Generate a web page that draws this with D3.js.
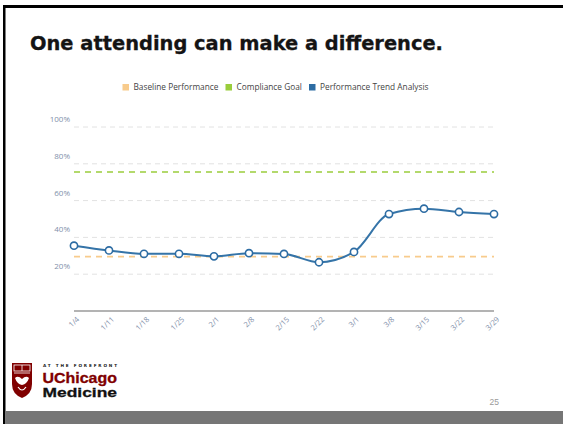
<!DOCTYPE html>
<html>
<head>
<meta charset="utf-8">
<script src="https://cdn.jsdelivr.net/npm/d3@7"></script>
<style>
  html, body { margin: 0; padding: 0; background: #fff; }
  svg { display: block; }
</style>
</head>
<body>
<svg id="chart" width="563" height="424"></svg>
<script>
// ---- data ----
const dates = ["1/4","1/11","1/18","1/25","2/1","2/8","2/15","2/22","3/1","3/8","3/15","3/22","3/29"];
const trend = [35.5, 32.9, 31.1, 31.1, 29.7, 31.4, 31.0, 26.5, 32.1, 52.7, 55.6, 53.8, 52.7];
const baseline = 29.6;
const goal = 75.5;
const yTicks = [20, 40, 60, 80, 100];
const legendLabels = ["Baseline Performance", "Compliance Goal", "Performance Trend Analysis"];
const legendColors = ["#f8cb8c", "#9acd3c", "#2d6ca3"];

const svg = d3.select("#chart");

// slide frame
svg.append("rect").attr("x", 3).attr("y", 5).attr("width", 560).attr("height", 3).attr("fill", "#000");
svg.append("rect").attr("x", 3).attr("y", 5).attr("width", 2.5).attr("height", 419).attr("fill", "#000");
svg.append("rect").attr("x", 5.5).attr("y", 411).attr("width", 558).attr("height", 13).attr("fill", "#767676");

// title
svg.append("text")
  .attr("x", 30).attr("y", 50)
  .attr("font-family", "DejaVu Sans")
  .attr("font-weight", "bold")
  .attr("font-size", 19)
  .attr("textLength", 413)
  .attr("lengthAdjust", "spacingAndGlyphs")
  .attr("fill", "#141414")
  .attr("stroke", "#141414").attr("stroke-width", 0.3)
  .text("One attending can make a difference.");

// scales
const x = d3.scalePoint().domain(dates).range([74, 494]);
const y = d3.scaleLinear().domain([0, 100]).range([311, 127]);

const font = "Open Sans";

// gridlines
svg.append("g").selectAll("line").data(yTicks).join("line")
  .attr("x1", 74).attr("x2", 494)
  .attr("y1", d => y(d)).attr("y2", d => y(d))
  .attr("stroke", "#e2e2e2").attr("stroke-width", 1)
  .attr("stroke-dasharray", "5,4");

// y labels
svg.append("g").selectAll("text").data(yTicks).join("text")
  .attr("x", 70).attr("y", d => y(d) - 5)
  .attr("text-anchor", "end")
  .attr("font-family", font).attr("font-size", 8)
  .attr("fill", "#7f90aa")
  .text(d => d + "%");

// x axis line
svg.append("line")
  .attr("x1", 74).attr("x2", 494).attr("y1", y(0)).attr("y2", y(0))
  .attr("stroke", "#9a9a9a").attr("stroke-width", 1.5);

// x labels
svg.append("g").selectAll("text").data(dates).join("text")
  .attr("transform", d => `translate(${x(d) + 4},${y(0) + 7}) rotate(-45)`)
  .attr("text-anchor", "end")
  .attr("dy", "0.35em")
  .attr("font-family", font).attr("font-size", 7.5)
  .attr("fill", "#7f90aa")
  .text(d => d);

// goal line
svg.append("line")
  .attr("x1", 74).attr("x2", 494).attr("y1", y(goal)).attr("y2", y(goal))
  .attr("stroke", legendColors[1]).attr("stroke-width", 1.5)
  .attr("stroke-dasharray", "6,5");

// baseline
svg.append("line")
  .attr("x1", 74).attr("x2", 494).attr("y1", y(baseline)).attr("y2", y(baseline))
  .attr("stroke", legendColors[0]).attr("stroke-width", 1.8)
  .attr("stroke-dasharray", "6,5");

// trend line
const pts = dates.map((d, i) => [x(d), y(trend[i])]);
svg.append("path")
  .attr("d", d3.line().curve(d3.curveMonotoneX)(pts))
  .attr("fill", "none").attr("stroke", "#3574a8").attr("stroke-width", 2);

svg.append("g").selectAll("circle").data(pts).join("circle")
  .attr("cx", d => d[0]).attr("cy", d => d[1]).attr("r", 3.6)
  .attr("fill", "#fff").attr("stroke", "#2d6ca3").attr("stroke-width", 1.6);

// legend
const legendX = [122.5, 225.5, 309];
const lg = svg.append("g");
legendLabels.forEach((t, i) => {
  lg.append("rect").attr("x", legendX[i]).attr("y", 84).attr("width", 6.5).attr("height", 6.5)
    .attr("fill", legendColors[i]);
  lg.append("text").attr("x", legendX[i] + 11).attr("y", 87.5).attr("dy", "0.35em")
    .attr("font-family", font).attr("font-size", 8.3).attr("fill", "#444")
    .text(t);
});

// logo
const logo = svg.append("g");
logo.append("path")
  .attr("d", "M12,363 L32,363 L32,384 Q32,394 22,398 Q12,394 12,384 Z")
  .attr("fill", "#800000");
// book
logo.append("rect").attr("x", 14).attr("y", 365).attr("width", 16).attr("height", 6).attr("fill", "none").attr("stroke", "#fff").attr("stroke-width", 0.8);
logo.append("line").attr("x1", 22).attr("x2", 22).attr("y1", 365).attr("y2", 371).attr("stroke", "#fff").attr("stroke-width", 0.8);
logo.append("line").attr("x1", 14).attr("x2", 30).attr("y1", 373).attr("y2", 373).attr("stroke", "#fff").attr("stroke-width", 0.8);
// bird
logo.append("path")
  .attr("d", "M15,378 Q18,375 22,379 Q26,375 29,378 Q27,384 22,385 Q17,384 15,378 Z")
  .attr("fill", "#fff");
logo.append("path")
  .attr("d", "M18,387 Q22,393 26,387")
  .attr("fill", "none").attr("stroke", "#fff").attr("stroke-width", 1.2);

logo.append("text").attr("x", 43).attr("y", 367)
  .attr("font-family", "DejaVu Sans").attr("font-weight", "bold").attr("font-size", 4.2)
  .attr("textLength", 74).attr("lengthAdjust", "spacing")
  .attr("fill", "#222").text("AT THE FOREFRONT");
logo.append("text").attr("x", 42.5).attr("y", 383)
  .attr("font-family", "Liberation Sans").attr("font-weight", "bold").attr("font-size", 14.5)
  .attr("textLength", 74.5).attr("lengthAdjust", "spacingAndGlyphs")
  .attr("fill", "#800000").attr("stroke", "#800000").attr("stroke-width", 0.3).text("UChicago");
logo.append("text").attr("x", 42.5).attr("y", 396.5)
  .attr("font-family", "Liberation Sans").attr("font-weight", "bold").attr("font-size", 13.5)
  .attr("textLength", 74.5).attr("lengthAdjust", "spacingAndGlyphs")
  .attr("fill", "#111").attr("stroke", "#111").attr("stroke-width", 0.3).text("Medicine");

// page number
svg.append("text").attr("x", 499).attr("y", 405)
  .attr("text-anchor", "end")
  .attr("font-family", "Liberation Sans").attr("font-size", 8.5)
  .attr("fill", "#9a9a9a").text("25");
</script>
</body>
</html>
